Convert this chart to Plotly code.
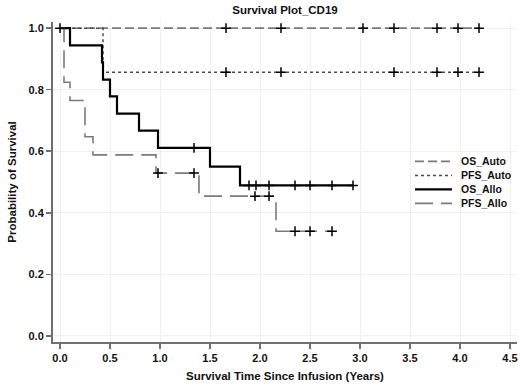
import numpy as np
import plotly.graph_objects as go

# ---- data ----
os_auto_times = []
os_auto_surv = []
os_auto_censor = [0.0, 1.66, 2.21, 3.03, 3.34, 3.77, 3.98, 4.19]
os_auto_end = 4.20

pfs_auto_times = [0.43]
pfs_auto_surv = [0.857]
pfs_auto_censor = [1.66, 2.21, 3.34, 3.77, 3.98, 4.19]
pfs_auto_end = 4.20

os_allo_times = [0.10, 0.42, 0.43, 0.50, 0.57, 0.79, 0.98, 1.50, 1.80]
os_allo_surv = [0.944, 0.889, 0.833, 0.778, 0.722, 0.667, 0.611, 0.550, 0.489]
os_allo_censor = [1.34, 1.89, 1.96, 2.09, 2.35, 2.50, 2.72, 2.93]
os_allo_end = 2.93

pfs_allo_times = [0.04, 0.10, 0.25, 0.33, 0.96, 1.39, 2.16]
pfs_allo_surv = [0.824, 0.765, 0.647, 0.588, 0.529, 0.454, 0.340]
pfs_allo_censor = [0.98, 1.34, 1.95, 2.09, 2.35, 2.50, 2.72]
pfs_allo_end = 2.72

legend_labels = ["OS_Auto", "PFS_Auto", "OS_Allo", "PFS_Allo"]
x_ticks = [0.0, 0.5, 1.0, 1.5, 2.0, 2.5, 3.0, 3.5, 4.0, 4.5]
y_ticks = [0.0, 0.2, 0.4, 0.6, 0.8, 1.0]


def step_xy(times, surv, end):
    xs = [0.0] + list(times) + [end]
    ys = [1.0] + list(surv) + [surv[-1] if surv else 1.0]
    return xs, ys


def surv_at(times, surv, t):
    s = 1.0
    for ti, si in zip(times, surv):
        if ti <= t:
            s = si
    return s


styles = [
    dict(color="#7a7a7a", width=1.6, dash="9px,4px"),
    dict(color="#4a4a4a", width=1.5, dash="3px,3px"),
    dict(color="#000000", width=2.2),
    dict(color="#7a7a7a", width=1.6, dash="18px,8px"),
]
series = [
    (os_auto_times, os_auto_surv, os_auto_censor, os_auto_end),
    (pfs_auto_times, pfs_auto_surv, pfs_auto_censor, pfs_auto_end),
    (os_allo_times, os_allo_surv, os_allo_censor, os_allo_end),
    (pfs_allo_times, pfs_allo_surv, pfs_allo_censor, pfs_allo_end),
]

fig = go.Figure()
for name, (times, surv, cens, end), line in zip(legend_labels, series, styles):
    xs, ys = step_xy(times, surv, end)
    fig.add_trace(go.Scatter(x=xs, y=ys, mode="lines", name=name,
                             showlegend=False,
                             line=dict(shape="hv", **line)))
for name, (times, surv, cens, end), line in zip(legend_labels, series, styles):
    fig.add_trace(go.Scatter(
        x=cens, y=[surv_at(times, surv, c) for c in cens], mode="markers",
        showlegend=False, hoverinfo="skip",
        marker=dict(symbol="cross-thin", size=7, color="black",
                    line=dict(color="black", width=1.5))))

# compact legend
leg_y0, leg_dy = 0.567, 0.0455
for i, (name, line) in enumerate(zip(legend_labels, styles)):
    yy = leg_y0 - i * leg_dy
    fig.add_shape(type="line", xref="x", yref="y", x0=3.55, x1=3.92,
                  y0=yy, y1=yy, line=line)
    fig.add_annotation(x=3.99, y=yy, xref="x", yref="y", text=f"<b>{name}</b>",
                       showarrow=False, xanchor="left", yanchor="middle",
                       font=dict(size=10.5))

font_family = "Liberation Sans, Arial, sans-serif"
fig.update_layout(
    width=520, height=386,
    margin=dict(l=53, r=3, t=22, b=44),
    paper_bgcolor="white", plot_bgcolor="white",
    font=dict(family=font_family, size=11, color="#111111"),
    title=dict(text="<b>Survival Plot_CD19</b>", x=0.548, xanchor="center",
               y=1 - 10 / 386, yanchor="middle", font=dict(size=11.5)),
    showlegend=False,
)
fig.update_xaxes(
    range=[-0.07, 4.57], tickvals=x_ticks,
    ticktext=[f"<b>{v:.1f}</b>" for v in x_ticks],
    showline=True, linecolor="#707070", linewidth=2,
    ticks="outside", ticklen=5, tickcolor="#707070", tickwidth=1.5,
    showgrid=True, gridcolor="#f0f0f0", gridwidth=1, zeroline=False,
    automargin=False,
    title=dict(text="<b>Survival Time Since Infusion (Years)</b>",
               font=dict(size=11.5), standoff=9),
    tickfont=dict(size=11),
)
fig.update_yaxes(
    range=[-0.02, 1.02], tickvals=y_ticks,
    ticktext=[f"<b>{v:.1f}</b>" for v in y_ticks],
    showline=True, linecolor="#707070", linewidth=2,
    ticks="outside", ticklen=5, tickcolor="#707070", tickwidth=1.5,
    showgrid=True, gridcolor="#f0f0f0", gridwidth=1, zeroline=False,
    automargin=False,
    title=dict(text="<b>Probability of Survival</b>", font=dict(size=11.5),
               standoff=9),
    tickfont=dict(size=11),
)

fig.write_html(
    "out.html",
    config={"displayModeBar": False, "staticPlot": True},
    post_script="document.body.style.margin='0';document.body.style.overflow='hidden';",
)
